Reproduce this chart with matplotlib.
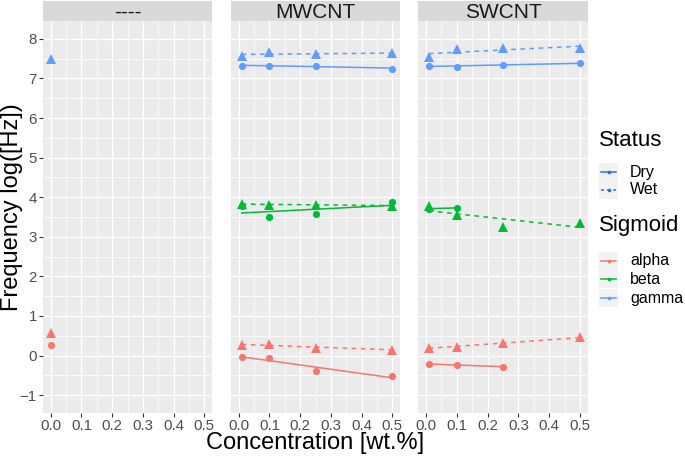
# Frequency vs concentration, faceted by filler type (ggplot-like look)
import numpy as np
import matplotlib.pyplot as plt
from matplotlib.lines import Line2D
from matplotlib.patches import Rectangle

plt.rcParams['font.family'] = ['Liberation Sans', 'DejaVu Sans']

W, H = 685, 457

# ---- data ----
facets = ["----", "MWCNT", "SWCNT"]
conc = [0.01, 0.1, 0.25, 0.5]
ctrl_conc = [0.0]

ctrl_alpha_dry = [0.26]
ctrl_alpha_wet = [0.58]
ctrl_gamma_wet = [7.49]

mw_alpha_dry = [-0.03, -0.06, -0.40, -0.52]
mw_alpha_wet = [0.26, 0.30, 0.19, 0.15]
mw_beta_dry = [3.77, 3.51, 3.57, 3.88]
mw_beta_wet = [3.84, 3.80, 3.81, 3.79]
mw_gamma_dry = [7.32, 7.32, 7.32, 7.25]
mw_gamma_wet = [7.56, 7.67, 7.62, 7.63]

sw_alpha_dry = [-0.21, -0.24, -0.28]        # only first 3 concentrations
sw_alpha_wet = [0.20, 0.22, 0.31, 0.46]
sw_beta_dry = [3.71, 3.73]                  # only first 2 concentrations
sw_beta_wet = [3.79, 3.54, 3.26, 3.34]
sw_gamma_dry = [7.31, 7.30, 7.35, 7.38]
sw_gamma_wet = [7.54, 7.74, 7.76, 7.78]

sigmoids = ["alpha", "beta", "gamma"]
statuses = ["Dry", "Wet"]
colors = {"alpha": "#F8766D", "beta": "#00BA38", "gamma": "#619CFF"}

panels = {
    "----": [("alpha", "Dry", ctrl_conc, ctrl_alpha_dry),
             ("alpha", "Wet", ctrl_conc, ctrl_alpha_wet),
             ("gamma", "Wet", ctrl_conc, ctrl_gamma_wet)],
    "MWCNT": [("alpha", "Dry", conc, mw_alpha_dry),
              ("alpha", "Wet", conc, mw_alpha_wet),
              ("beta", "Dry", conc, mw_beta_dry),
              ("beta", "Wet", conc, mw_beta_wet),
              ("gamma", "Dry", conc, mw_gamma_dry),
              ("gamma", "Wet", conc, mw_gamma_wet)],
    "SWCNT": [("alpha", "Dry", conc[:3], sw_alpha_dry),
              ("alpha", "Wet", conc, sw_alpha_wet),
              ("beta", "Dry", conc[:2], sw_beta_dry),
              ("beta", "Wet", conc, sw_beta_wet),
              ("gamma", "Dry", conc, sw_gamma_dry),
              ("gamma", "Wet", conc, sw_gamma_wet)],
}


def rect(x0, y0, x1, y1):
    return [x0 / W, 1 - y1 / H, (x1 - x0) / W, (y1 - y0) / H]


fig = plt.figure(figsize=(W / 100, H / 100), dpi=100)

xs = [(43, 212), (231, 400), (418, 588)]
for i, (name, (x0, x1)) in enumerate(zip(facets, xs)):
    ax = fig.add_axes(rect(x0, 21, x1, 413))
    ax.set_facecolor("#EBEBEB")
    for s in ax.spines.values():
        s.set_visible(False)
    ax.set_xlim(-0.025, 0.525)
    ax.set_ylim(-1.45, 8.45)
    ax.set_xticks(np.arange(0, 0.51, 0.1))
    ax.set_xticks(np.arange(0.05, 0.51, 0.1), minor=True)
    ax.set_yticks(np.arange(-1, 9))
    ax.set_yticks(np.arange(-0.5, 8.5, 1), minor=True)
    ax.set_xticklabels([f"{v:.1f}" for v in np.arange(0, 0.51, 0.1)])
    ax.grid(which="major", color="white", linewidth=1.0)
    ax.grid(which="minor", color="white", linewidth=0.5)
    ax.set_axisbelow(True)
    ax.tick_params(which="major", length=3, color="#333333", labelsize=10.8,
                   labelcolor="#4D4D4D", pad=1.5)
    ax.tick_params(which="minor", length=0)
    if i > 0:
        ax.tick_params(axis="y", which="both", left=False, labelleft=False)

    for sig, st, x, y in panels[name]:
        c = colors[sig]
        if st == "Dry":
            ax.plot(x, y, "o", color=c, markersize=5.2, markeredgewidth=0, zorder=3)
        else:
            ax.plot(x, y, "^", color=c, markersize=6.8, markeredgewidth=0, zorder=3)
        if len(x) > 1:
            k, b = np.polyfit(x, y, 1)
            xx = np.array([min(x), max(x)])
            ls = "-" if st == "Dry" else (0, (3, 3))
            ax.plot(xx, k * xx + b, color=c, linewidth=1.1, linestyle=ls, zorder=2)

    # strip
    sax = fig.add_axes(rect(x0, 1, x1, 21))
    sax.set_facecolor("#D9D9D9")
    sax.set_xticks([]); sax.set_yticks([])
    for s in sax.spines.values():
        s.set_visible(False)
    sax.text(0.5, 0.45, name, ha="center", va="center", fontsize=15,
             color="#1A1A1A", transform=sax.transAxes)

fig.text(315 / W, 1 - 443 / H, "Concentration [wt.%]", ha="center", va="center",
         fontsize=17)
fig.text(12 / W, 1 - 207 / H, "Frequency log([Hz])", ha="center", va="center",
         rotation=90, fontsize=17)


# legends
def key(y, color, ls):
    fig.patches.append(Rectangle((599 / W, 1 - (y + 9) / H), 19 / W, 18 / H,
                                 transform=fig.transFigure, facecolor="#F2F2F2",
                                 edgecolor="none"))
    fig.add_artist(Line2D([601 / W, 608.5 / W, 616 / W], [1 - y / H] * 3,
                          color=color, linewidth=1.1, linestyle=ls, marker="o",
                          markersize=1.6, markevery=[1],
                          transform=fig.transFigure))


fig.text(599 / W, 1 - 140 / H, "Status", ha="left", va="center", fontsize=16)
for lab, y, ls in zip(statuses, [172, 190], ["-", (0, (2, 2))]):
    key(y, "#3366FF", ls)
    fig.text(630 / W, 1 - y / H, lab, ha="left", va="center", fontsize=11.5)

fig.text(599 / W, 1 - 225 / H, "Sigmoid", ha="left", va="center", fontsize=16)
for lab, y in zip(sigmoids, [261, 279, 298]):
    key(y, colors[lab], "-")
    fig.text(630 / W, 1 - y / H, lab, ha="left", va="center", fontsize=11.5)

fig.savefig("out.png", dpi=100)
